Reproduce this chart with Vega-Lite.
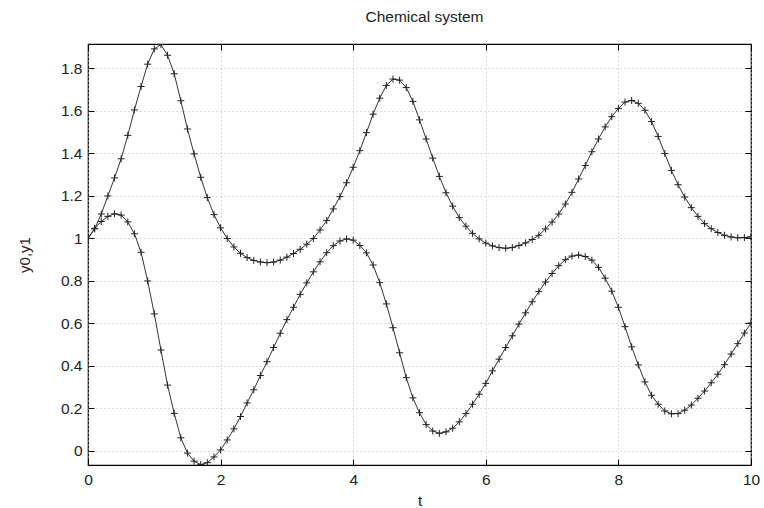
{
  "$schema": "https://vega.github.io/schema/vega-lite/v6.json",
  "width": 663,
  "height": 421,
  "autosize": {"type": "none"},
  "padding": {"left": 88, "top": 44, "right": 13, "bottom": 43},
  "background": "white",
  "title": {"text": "Chemical system", "fontSize": 15.5, "fontWeight": "normal", "font": "Liberation Sans", "color": "#222", "offset": 18, "dx": 5},
  "data": {"values": [
    {"t":0.0,"y0":1.000,"y1":1.000},{"t":0.1,"y0":1.045,"y1":1.048},{"t":0.2,"y0":1.115,"y1":1.080},{"t":0.3,"y0":1.200,"y1":1.104},{"t":0.4,"y0":1.285,"y1":1.116},
    {"t":0.5,"y0":1.375,"y1":1.110},{"t":0.6,"y0":1.485,"y1":1.078},{"t":0.7,"y0":1.605,"y1":1.022},{"t":0.8,"y0":1.715,"y1":0.935},{"t":0.9,"y0":1.820,"y1":0.800},
    {"t":1.0,"y0":1.892,"y1":0.645},{"t":1.1,"y0":1.912,"y1":0.475},{"t":1.2,"y0":1.862,"y1":0.310},{"t":1.3,"y0":1.775,"y1":0.177},{"t":1.4,"y0":1.648,"y1":0.062},
    {"t":1.5,"y0":1.515,"y1":-0.010},{"t":1.6,"y0":1.398,"y1":-0.048},{"t":1.7,"y0":1.288,"y1":-0.064},{"t":1.8,"y0":1.192,"y1":-0.055},{"t":1.9,"y0":1.112,"y1":-0.028},
    {"t":2.0,"y0":1.050,"y1":0.005},{"t":2.1,"y0":1.000,"y1":0.052},{"t":2.2,"y0":0.960,"y1":0.104},{"t":2.3,"y0":0.930,"y1":0.162},{"t":2.4,"y0":0.910,"y1":0.226},
    {"t":2.5,"y0":0.897,"y1":0.288},{"t":2.6,"y0":0.889,"y1":0.355},{"t":2.7,"y0":0.886,"y1":0.420},{"t":2.8,"y0":0.889,"y1":0.487},{"t":2.9,"y0":0.898,"y1":0.554},
    {"t":3.0,"y0":0.912,"y1":0.618},{"t":3.1,"y0":0.929,"y1":0.676},{"t":3.2,"y0":0.949,"y1":0.737},{"t":3.3,"y0":0.973,"y1":0.791},{"t":3.4,"y0":1.000,"y1":0.843},
    {"t":3.5,"y0":1.040,"y1":0.890},{"t":3.6,"y0":1.084,"y1":0.933},{"t":3.7,"y0":1.139,"y1":0.966},{"t":3.8,"y0":1.197,"y1":0.988},{"t":3.9,"y0":1.262,"y1":0.998},
    {"t":4.0,"y0":1.335,"y1":0.992},{"t":4.1,"y0":1.413,"y1":0.967},{"t":4.2,"y0":1.498,"y1":0.932},{"t":4.3,"y0":1.585,"y1":0.875},{"t":4.4,"y0":1.660,"y1":0.792},
    {"t":4.5,"y0":1.720,"y1":0.692},{"t":4.6,"y0":1.750,"y1":0.580},{"t":4.7,"y0":1.745,"y1":0.462},{"t":4.8,"y0":1.710,"y1":0.345},{"t":4.9,"y0":1.645,"y1":0.250},
    {"t":5.0,"y0":1.558,"y1":0.180},{"t":5.1,"y0":1.468,"y1":0.124},{"t":5.2,"y0":1.378,"y1":0.094},{"t":5.3,"y0":1.292,"y1":0.083},{"t":5.4,"y0":1.215,"y1":0.090},
    {"t":5.5,"y0":1.152,"y1":0.107},{"t":5.6,"y0":1.098,"y1":0.137},{"t":5.7,"y0":1.058,"y1":0.176},{"t":5.8,"y0":1.024,"y1":0.220},{"t":5.9,"y0":0.998,"y1":0.267},
    {"t":6.0,"y0":0.978,"y1":0.318},{"t":6.1,"y0":0.965,"y1":0.377},{"t":6.2,"y0":0.957,"y1":0.432},{"t":6.3,"y0":0.954,"y1":0.487},{"t":6.4,"y0":0.957,"y1":0.542},
    {"t":6.5,"y0":0.967,"y1":0.597},{"t":6.6,"y0":0.979,"y1":0.650},{"t":6.7,"y0":0.995,"y1":0.702},{"t":6.8,"y0":1.015,"y1":0.750},{"t":6.9,"y0":1.045,"y1":0.795},
    {"t":7.0,"y0":1.077,"y1":0.835},{"t":7.1,"y0":1.115,"y1":0.872},{"t":7.2,"y0":1.162,"y1":0.900},{"t":7.3,"y0":1.217,"y1":0.917},{"t":7.4,"y0":1.280,"y1":0.922},
    {"t":7.5,"y0":1.343,"y1":0.915},{"t":7.6,"y0":1.408,"y1":0.898},{"t":7.7,"y0":1.468,"y1":0.864},{"t":7.8,"y0":1.525,"y1":0.813},{"t":7.9,"y0":1.573,"y1":0.752},
    {"t":8.0,"y0":1.612,"y1":0.676},{"t":8.1,"y0":1.642,"y1":0.585},{"t":8.2,"y0":1.649,"y1":0.490},{"t":8.3,"y0":1.636,"y1":0.405},{"t":8.4,"y0":1.603,"y1":0.325},
    {"t":8.5,"y0":1.550,"y1":0.262},{"t":8.6,"y0":1.480,"y1":0.220},{"t":8.7,"y0":1.400,"y1":0.188},{"t":8.8,"y0":1.320,"y1":0.175},{"t":8.9,"y0":1.253,"y1":0.176},
    {"t":9.0,"y0":1.195,"y1":0.192},{"t":9.1,"y0":1.145,"y1":0.216},{"t":9.2,"y0":1.104,"y1":0.248},{"t":9.3,"y0":1.070,"y1":0.282},{"t":9.4,"y0":1.046,"y1":0.321},
    {"t":9.5,"y0":1.028,"y1":0.361},{"t":9.6,"y0":1.015,"y1":0.406},{"t":9.7,"y0":1.007,"y1":0.456},{"t":9.8,"y0":1.003,"y1":0.505},{"t":9.9,"y0":1.004,"y1":0.555},
    {"t":10.0,"y0":1.008,"y1":0.602}
  ]},
  "transform": [{"fold": ["y0", "y1"], "as": ["s", "y"]}],
  "encoding": {
    "x": {"field": "t", "type": "quantitative", "scale": {"domain": [0, 10], "nice": false, "zero": false}},
    "y": {"field": "y", "type": "quantitative", "scale": {"domain": [-0.066, 1.915], "nice": false, "zero": false}},
    "detail": {"field": "s"}
  },
  "layer": [
    {
      "mark": {"type": "line", "stroke": "#333", "strokeWidth": 1, "clip": true},
      "encoding": {
        "x": {"field": "t", "type": "quantitative", "axis": {"orient": "bottom", "values": [0,2,4,6,8,10], "title": "t", "grid": true, "labelFlush": false, "labelPadding": 13, "titlePadding": 6}},
        "y": {"field": "y", "type": "quantitative", "axis": {"orient": "left", "values": [0,0.2,0.4,0.6,0.8,1,1.2,1.4,1.6,1.8], "format": "~g", "title": "y0,y1", "grid": true, "labelFlush": false, "labelPadding": 12, "titlePadding": 28}}
      }
    },
    {
      "mark": {"type": "point", "shape": "M-1,0H1M0,-1V1", "filled": false, "stroke": "#222", "strokeWidth": 1, "size": 49, "opacity": 1, "clip": true},
      "encoding": {
        "x": {"field": "t", "type": "quantitative", "axis": {"orient": "top", "values": [0,2,4,6,8,10], "labels": false, "title": null, "grid": false}},
        "y": {"field": "y", "type": "quantitative", "axis": {"orient": "right", "values": [0,0.2,0.4,0.6,0.8,1,1.2,1.4,1.6,1.8], "labels": false, "title": null, "grid": false}}
      }
    }
  ],
  "resolve": {"axis": {"x": "independent", "y": "independent"}},
  "config": {
    "view": {"stroke": "#000", "strokeWidth": 1.2},
    "axis": {
      "domain": false,
      "ticks": true,
      "tickSize": -6,
      "tickColor": "#000",
      "tickWidth": 1,
      "gridColor": "#bbbbbb",
      "gridDash": [1, 3],
      "gridWidth": 1,
      "labelFont": "Liberation Sans",
      "labelFontSize": 15.5,
      "labelColor": "#222",
      "titleFont": "Liberation Sans",
      "titleFontSize": 15,
      "titleFontWeight": "normal",
      "titleColor": "#222"
    }
  }
}
